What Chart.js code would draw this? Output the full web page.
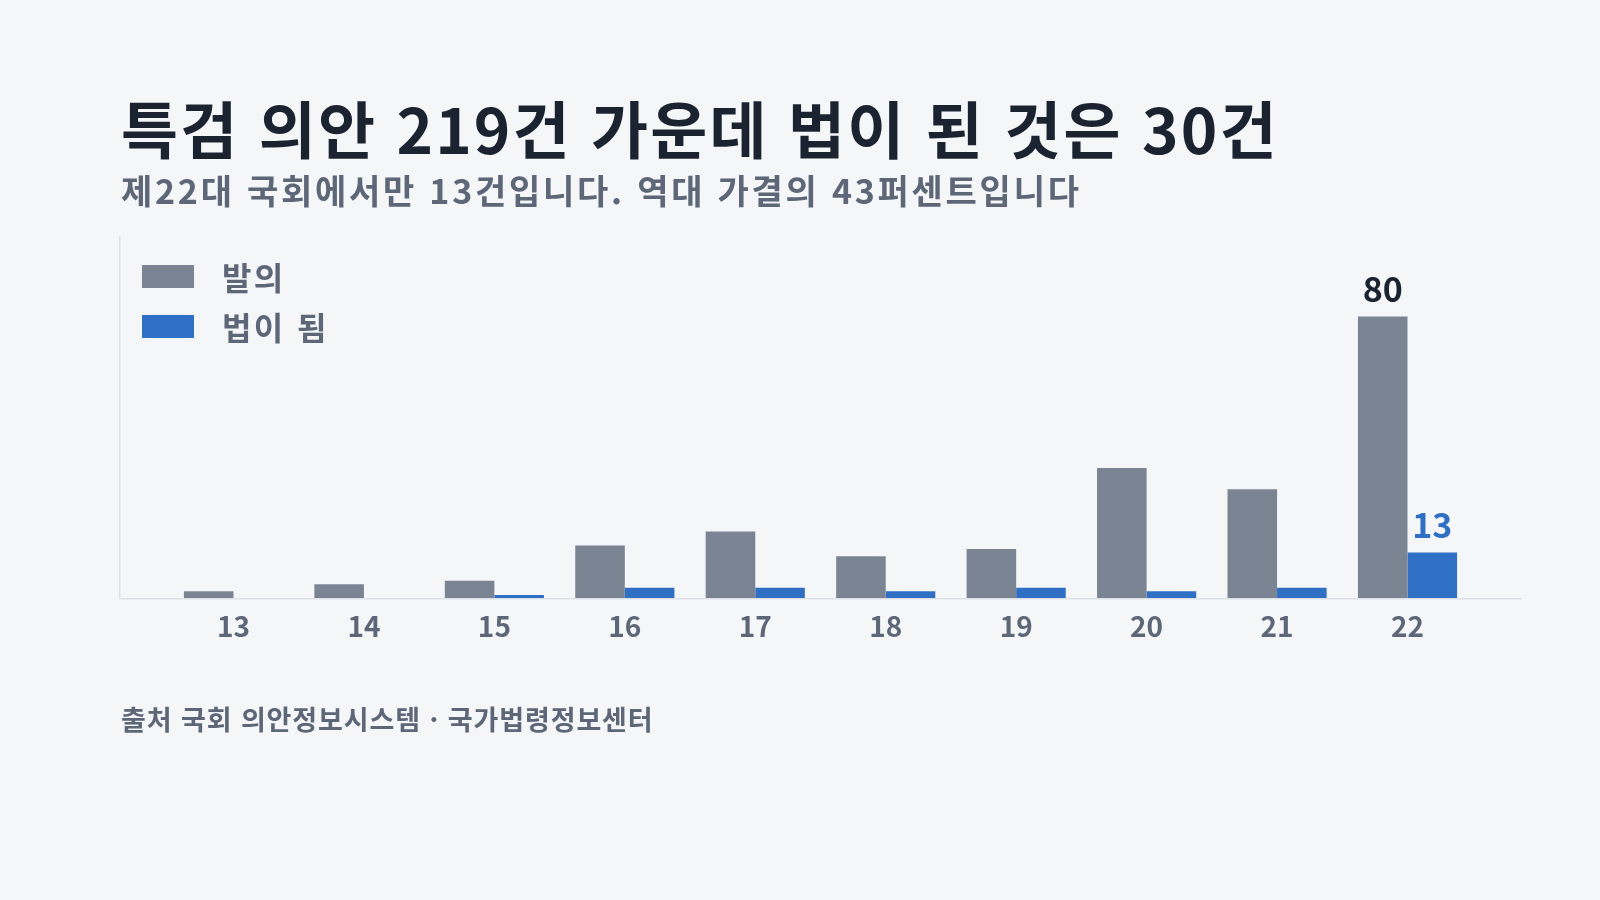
<!DOCTYPE html>
<html lang="ko">
<head>
<meta charset="utf-8">
<script src="https://cdn.jsdelivr.net/npm/chart.js@4.4.1/dist/chart.umd.min.js"></script>
<style>
  html, body { margin:0; padding:0; background:#f4f6f8; }
  body { width:1600px; height:900px; position:relative; overflow:hidden; font-family:"Noto Sans CJK KR","Noto Sans",sans-serif; }
  #title { position:absolute; left:121px; top:96px; font-size:62px; line-height:1; font-weight:700; color:#1b2331; white-space:nowrap; letter-spacing:2.1px; }
  #subtitle { position:absolute; left:121px; top:173px; font-size:34px; line-height:1; font-weight:700; color:#5d6778; white-space:nowrap; letter-spacing:2.75px; }
  #legend { position:absolute; left:142px; top:251px; }
  .lg { display:flex; align-items:center; height:50px; }
  .lg .sw { width:52px; height:23px; margin-right:28px; }
  .lg .tx { font-size:32px; font-weight:700; color:#5d6778; line-height:1; letter-spacing:2.4px; }
  #footer { position:absolute; left:121px; top:705px; font-size:27px; line-height:1; font-weight:700; color:#5d6778; white-space:nowrap; letter-spacing:0.9px; }
  #wrap { position:absolute; left:0; top:0; width:1600px; height:900px; }
</style>
</head>
<body>
<div id="wrap"><canvas id="c"></canvas></div>
<div id="title">특검 의안 219건 가운데 법이 된 것은 30건</div>
<div id="subtitle">제22대 국회에서만 13건입니다. 역대 가결의 43퍼센트입니다</div>
<div id="legend"></div>
<div id="footer">출처 국회 의안정보시스템 · 국가법령정보센터</div>
<script>
// Data
const sessions = [13, 14, 15, 16, 17, 18, 19, 20, 21, 22];
const tickLabels = ["13", "14", "15", "16", "17", "18", "19", "20", "21", "22"];
const proposed = [2, 4, 5, 15, 19, 12, 14, 37, 31, 80];
const enacted = [0, 0, 1, 3, 3, 2, 3, 2, 3, 13];
const seriesNames = ["발의", "법이 됨"];

const GRAY = "#7b8493";
const BLUE = "#2f6fc4";
const FONT = "'Noto Sans CJK KR', 'Noto Sans', sans-serif";

const toPoints = (vals) => vals.map((v, i) => ({ x: sessions[i], y: v }));

const endLabels = {
  id: "endLabels",
  afterDatasetsDraw(chart) {
    const ctx = chart.ctx;
    const last = sessions.length - 1;
    const specs = [
      { ds: 0, color: "#1b2331", weight: 700 },
      { ds: 1, color: BLUE, weight: 600 }
    ];
    ctx.save();
    ctx.textAlign = "center";
    ctx.textBaseline = "alphabetic";
    specs.forEach(s => {
      const el = chart.getDatasetMeta(s.ds).data[last];
      const val = chart.data.datasets[s.ds].data[last].y;
      ctx.fillStyle = s.color;
      ctx.font = s.weight + " 34px " + FONT;
      ctx.fillText(String(val), el.x, el.y - 15);
    });
    ctx.restore();
  }
};

const chart = new Chart(document.getElementById("c"), {
  type: "bar",
  data: {
    datasets: [
      { label: seriesNames[0], data: toPoints(proposed), backgroundColor: GRAY, borderWidth: 0 },
      { label: seriesNames[1], data: toPoints(enacted), backgroundColor: BLUE, borderWidth: 0 }
    ]
  },
  options: {
    responsive: true,
    maintainAspectRatio: false,
    animation: false,
    layout: { padding: { left: 120, right: 79, top: 237, bottom: 246 } },
    datasets: { bar: { categoryPercentage: 0.76, barPercentage: 1.0 } },
    plugins: { legend: { display: false }, tooltip: { enabled: false }, title: { display: false } },
    scales: {
      x: {
        type: "linear",
        offset: false,
        min: 12.13,
        max: 22.87,
        afterBuildTicks: (axis) => { axis.ticks = sessions.map(v => ({ value: v })); },
        ticks: {
          autoSkip: false,
          maxRotation: 0,
          padding: 11,
          color: "#5d6778",
          font: { family: FONT, size: 28, weight: 700 },
          callback: (v) => tickLabels[sessions.indexOf(v)] ?? ""
        },
        grid: { display: true, drawOnChartArea: false, drawTicks: false },
        border: { display: true, color: "#dde1e7", width: 1.5 }
      },
      y: {
        min: 0,
        max: 102.6,
        ticks: { display: false },
        grid: { display: true, drawOnChartArea: false, drawTicks: false },
        border: { display: true, color: "#dde1e7", width: 1.5 }
      }
    }
  },
  plugins: [endLabels]
});

// Legend built from dataset definitions
const lg = document.getElementById("legend");
chart.data.datasets.forEach(ds => {
  const row = document.createElement("div");
  row.className = "lg";
  const sw = document.createElement("span");
  sw.className = "sw";
  sw.style.background = ds.backgroundColor;
  const tx = document.createElement("span");
  tx.className = "tx";
  tx.textContent = ds.label;
  row.appendChild(sw); row.appendChild(tx);
  lg.appendChild(row);
});
</script>
</body>
</html>
